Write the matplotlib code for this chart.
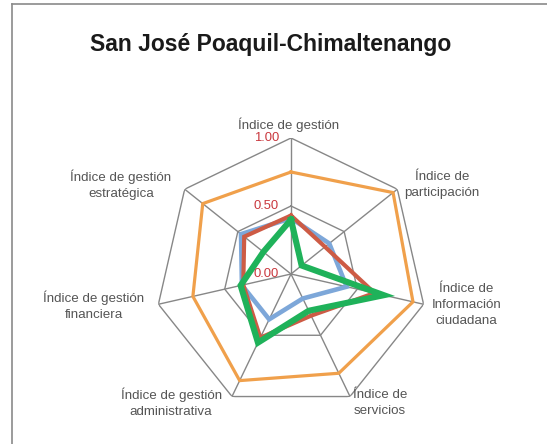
import numpy as np
import matplotlib
matplotlib.use("Agg")
import matplotlib.pyplot as plt
from matplotlib.lines import Line2D
from matplotlib.transforms import offset_copy

title = "San José Poaquil-Chimaltenango"
categories = ["Índice de gestión", "Índice de\nparticipación",
              "Índice de\nInformación\nciudadana", "Índice de\nservicios",
              "Índice de gestión\nadministrativa", "Índice de gestión\nfinanciera",
              "Índice de gestión\nestratégica"]
serie_naranja = [0.75, 0.96, 0.92, 0.81, 0.87, 0.74, 0.83]
serie_azul = [0.41, 0.36, 0.42, 0.20, 0.37, 0.37, 0.47]
serie_roja = [0.43, 0.32, 0.63, 0.34, 0.52, 0.36, 0.44]
serie_verde = [0.40, 0.10, 0.70, 0.30, 0.56, 0.38, 0.26]
ticks = [0.0, 0.5, 1.0]

# where the category labels sit (angle from top, clockwise, in degrees; radius)
label_pos = [(-1.1, 1.10), (59.5, 1.29), (100.0, 1.31), (145.4, 1.15),
             (222.9, 1.295), (260.8, 1.468), (297.6, 1.411)]

plt.rcParams['font.family'] = ['Liberation Sans', 'DejaVu Sans']

fig = plt.figure(figsize=(5.47, 4.44), dpi=100)
ax = fig.add_axes([155/547, 34/444, 272/547, 272/444], projection='polar')
ax.set_theta_offset(np.pi/2)
ax.set_theta_direction(-1)
ax.set_ylim(0, 1)
ax.grid(False)
ax.spines['polar'].set_visible(False)
ax.set_xticks([])
ax.set_yticks([])
ax.patch.set_alpha(0)

n = len(categories)
ang = np.linspace(0, 2*np.pi, n, endpoint=False)
ang_c = np.append(ang, ang[0])

gris = '#878787'
for t in ticks[1:]:
    ax.plot(ang_c, [t]*(n+1), color=gris, lw=1.0, zorder=1)
for a in ang:
    ax.plot([a, a], [0, 1], color=gris, lw=1.0, zorder=1)

def close(v):
    return list(v) + [v[0]]

ax.plot(ang_c, close(serie_naranja), color='#F0A04B', lw=2.3, zorder=3, solid_joinstyle='miter')
ax.plot(ang_c, close(serie_azul), color='#7DA7D9', lw=3.3, zorder=4, solid_joinstyle='miter')
ax.plot(ang_c, close(serie_roja), color='#CD5B45', lw=3.0, zorder=5, solid_joinstyle='miter')
ax.plot(ang_c, close(serie_verde), color='#1FB25A', lw=4.4, zorder=6, solid_joinstyle='miter')

tr = offset_copy(ax.transData, fig=fig, x=-12, y=0, units='dots')
for t in ticks:
    ax.text(0, t, f"{t:.2f}", transform=tr, ha='right', va='center',
            fontsize=9.4, color='#C9373D', zorder=7)

for lab, (a, r) in zip(categories, label_pos):
    ax.text(np.deg2rad(a), r, lab, ha='center', va='center', fontsize=9.6,
            color='#555555', linespacing=1.42)

fig.text(271/547, 1 - 45/444, title, ha='center', va='center',
         fontsize=16.5, fontweight='bold', color='#1a1a1a')

# chart frame (only left and top edges are visible)
fig.add_artist(Line2D([12/547, 12/547], [0, 1 - 4/444], color='#8a8a8a', lw=1.2))
fig.add_artist(Line2D([12/547, 1], [1 - 4/444, 1 - 4/444], color='#8a8a8a', lw=1.2))

fig.savefig("out.png", dpi=100)
